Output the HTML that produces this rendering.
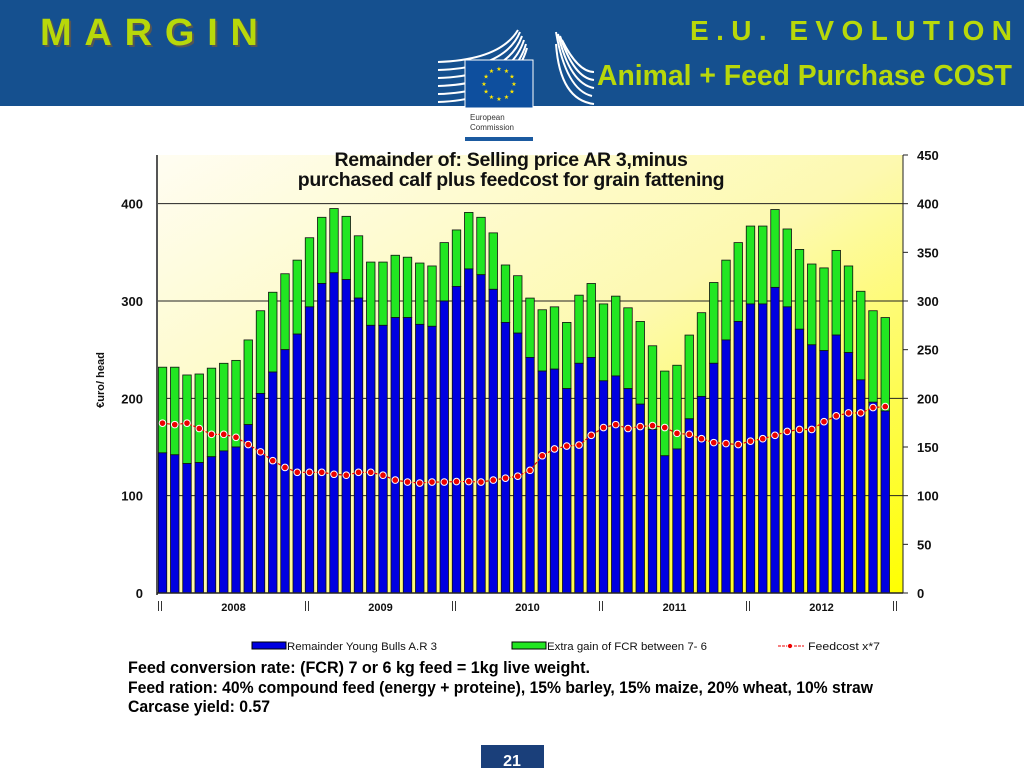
<!DOCTYPE html>
<html><head><meta charset="utf-8"><style>
html,body{margin:0;padding:0;background:#fff;}
svg{display:block;font-family:"Liberation Sans",sans-serif;}
</style></head><body>
<svg id="chart" width="1024" height="768" viewBox="0 0 1024 768">
<defs>
<linearGradient id="bg" x1="0" y1="0" x2="1" y2="1">
<stop offset="0" stop-color="#fffdf2"/><stop offset="0.5" stop-color="#fdf9b0"/><stop offset="1" stop-color="#ffff00"/>
</linearGradient>
</defs>
<rect x="0" y="0" width="1024" height="106" fill="#15508f"/>
<text x="42" y="47" font-weight="bold" font-size="38" textLength="218" lengthAdjust="spacing" fill="#555">MARGIN</text>
<text x="40" y="45" font-weight="bold" font-size="38" textLength="218" lengthAdjust="spacing" fill="#b8d80a">MARGIN</text>
<text x="690" y="40" font-weight="bold" font-size="28" textLength="322" lengthAdjust="spacing" fill="#b8d80a">E.U.   EVOLUTION</text>
<text x="597" y="85" font-weight="bold" font-size="29" textLength="415" lengthAdjust="spacingAndGlyphs" fill="#b8d80a">Animal + Feed Purchase COST</text>
<g>
<g stroke="#fff" stroke-width="2" fill="none">
<path d="M438 62 Q500 60 518 30"/><path d="M438 70 Q505 68 520 32"/><path d="M438 78 Q508 76 522 36"/><path d="M438 86 Q510 84 524 40"/><path d="M438 94 Q512 92 526 44"/><path d="M438 102 Q512 100 527 48"/>
<path d="M556 32 Q566 90 592 96"/><path d="M558 34 Q570 84 594 88"/><path d="M560 36 Q574 78 594 80"/><path d="M562 40 Q578 72 594 72"/><path d="M556 44 Q560 100 594 104"/>
</g>
<rect x="465" y="60" width="68" height="48" fill="#0e4f9e" stroke="#fff"/>
<rect x="465" y="108" width="68" height="32" fill="#fff"/>
<rect x="465" y="137" width="68" height="4" fill="#1b5aa0"/>
<text x="470" y="120" font-size="8" fill="#333">European</text>
<text x="470" y="130" font-size="8" fill="#333">Commission</text>
<g fill="#ffe800" font-size="6" text-anchor="middle" id="stars"></g>
</g>
<rect x="157" y="155" width="746" height="438" fill="url(#bg)"/>
<g id="grid"></g>
<g id="bars"></g>
<g id="line"></g>
<g id="axes"></g>
<text x="511" y="166" text-anchor="middle" font-weight="bold" font-size="19.5" letter-spacing="-0.3" fill="#111">Remainder of: Selling price AR 3,minus</text>
<text x="511" y="186" text-anchor="middle" font-weight="bold" font-size="19.5" letter-spacing="-0.3" fill="#111">purchased calf plus feedcost for grain fattening</text>
<text transform="translate(104,380) rotate(-90)" text-anchor="middle" font-weight="bold" font-size="11" fill="#111">€uro/ head</text>
<g font-size="11" fill="#111">
<rect x="252" y="642" width="34" height="7" fill="#0000e0" stroke="#000"/>
<text x="287" y="650" textLength="150" lengthAdjust="spacingAndGlyphs">Remainder Young Bulls A.R 3</text>
<rect x="512" y="642" width="34" height="7" fill="#22e622" stroke="#000"/>
<text x="547" y="650" textLength="160" lengthAdjust="spacingAndGlyphs">Extra gain of FCR between 7- 6</text>
<line x1="778" y1="646" x2="804" y2="646" stroke="#e00" stroke-dasharray="3,1"/>
<circle cx="790" cy="646" r="2.5" fill="#e00" stroke="#fff" stroke-width="0.8"/>
<text x="808" y="650" textLength="72" lengthAdjust="spacingAndGlyphs">Feedcost x*7</text>
</g>
<g font-weight="bold" font-size="16.5" fill="#000">
<text x="128" y="673" textLength="462" lengthAdjust="spacingAndGlyphs">Feed conversion rate: (FCR)    7 or 6 kg feed = 1kg live weight.</text>
<text x="128" y="693" textLength="745" lengthAdjust="spacingAndGlyphs">Feed ration: 40% compound feed (energy + proteine), 15% barley, 15% maize, 20% wheat, 10% straw</text>
<text x="128" y="712" textLength="142" lengthAdjust="spacingAndGlyphs">Carcase yield: 0.57</text>
</g>
<rect x="481" y="745" width="63" height="23" fill="#1a3f7a"/>
<text x="512" y="766" text-anchor="middle" font-weight="bold" font-size="16" fill="#fff">21</text>
</svg>
<script>
const years = ["2008","2009","2010","2011","2012"];
const leftTicks = [0,100,200,300,400];
const rightTicks = [0,50,100,150,200,250,300,350,400,450];
const remainder = [144,142,133,134,140,146,150,173,205,227,250,266,294,318,329,322,303,275,275,283,283,276,274,300,315,333,327,312,278,267,242,228,230,210,236,242,218,223,210,194,168,141,148,179,202,236,260,279,297,297,314,294,271,255,249,265,247,219,196,187];
const totalTop = [232,232,224,225,231,236,239,260,290,309,328,342,365,386,395,387,367,340,340,347,345,339,336,360,373,391,386,370,337,326,303,291,294,278,306,318,297,305,293,279,254,228,234,265,288,319,342,360,377,377,394,374,353,338,334,352,336,310,290,283];
const feedcost = [174.5,173,174.5,169,163,163,160,152.5,145,136,129,124,124,124,122,121,124,124,121,116,114,113,114,114,114.5,114.5,114,116,118,120,126,141,148,151,152,162,170,173,169,171,172,170,164,163,158.5,154.5,153.5,152.5,156,158.5,162,166,168,168,176,182,185,185,190.5,191.5];
const NS="http://www.w3.org/2000/svg";
function mk(tag,attrs,parent){const e=document.createElementNS(NS,tag);for(const k in attrs)e.setAttribute(k,attrs[k]);parent.appendChild(e);return e;}
const X0=157,X1=903,Y0=593,YT=155,VMAX=450;
const slot=12.25, firstX=162.5;
function xs(i){return firstX+i*slot;}
function ys(v){return Y0-(v/VMAX)*(Y0-YT);}
const grid=document.getElementById('grid'),bars=document.getElementById('bars'),line=document.getElementById('line'),axes=document.getElementById('axes');
leftTicks.forEach(t=>{
 if(t>0){const g=mk('line',{x1:X0,x2:X1,y1:ys(t),y2:ys(t),stroke:'#222','stroke-width':1},grid);
 
 }
 const tx=mk('text',{x:X0-14,y:ys(t)+5,'text-anchor':'end','font-weight':'bold','font-size':13,fill:'#111'},axes);
 tx.textContent=t;
 
 
});
rightTicks.forEach(t=>{
 mk('line',{x1:X1,x2:X1+5,y1:ys(t),y2:ys(t),stroke:'#222'},axes);
 const tx=mk('text',{x:X1+14,y:ys(t)+5,'font-weight':'bold','font-size':13,fill:'#111'},axes);
 tx.textContent=t;
 
 
});
const bw=8.5;
remainder.forEach((v,i)=>{
 const x=xs(i)-bw/2;
 const g=mk('rect',{x:x,y:ys(totalTop[i]),width:bw,height:ys(v)-ys(totalTop[i]),fill:'#22e622',stroke:'#111','stroke-width':0.8},bars);
 
 
 const b=mk('rect',{x:x,y:ys(v),width:bw,height:Y0-ys(v),fill:'#0000e0',stroke:'#111','stroke-width':0.8},bars);
 
 
});
const pts=feedcost.map((v,i)=>xs(i)+','+ys(v)).join(' ');
const pl=mk('polyline',{points:pts,fill:'none',stroke:'#e00','stroke-width':1.2,'stroke-dasharray':'3,1.5'},line);


feedcost.forEach((v,i)=>{
 const c=mk('circle',{cx:xs(i),cy:ys(v),r:3.3,fill:'#e00',stroke:'#fff','stroke-width':1},line);
 
 
});
mk('line',{x1:X0,x2:X0,y1:YT,y2:Y0+2,stroke:'#555','stroke-width':2},axes);
mk('line',{x1:X1,x2:X1,y1:YT,y2:Y0,stroke:'#222','stroke-width':1},axes);
mk('line',{x1:X0,x2:X1,y1:Y0,y2:Y0,stroke:'#222','stroke-width':1.5},axes);
for(let k=0;k<=years.length;k++){
 const xb=X0+3+k*slot*12;
 mk('line',{x1:xb-1.5,x2:xb-1.5,y1:601,y2:611,stroke:'#333'},axes);
 mk('line',{x1:xb+1.5,x2:xb+1.5,y1:601,y2:611,stroke:'#333'},axes);
 if(k<years.length){const t=mk('text',{x:xb+slot*6,y:611,'text-anchor':'middle','font-weight':'bold','font-size':11,fill:'#111'},axes);
 t.textContent=years[k];
 
 }
}
const st=document.getElementById('stars');
for(let k=0;k<12;k++){const a=k*Math.PI/6;const t=mk('text',{x:499+15*Math.cos(a),y:86+15*Math.sin(a)},st);t.textContent='★';}
</script>
</body></html>
